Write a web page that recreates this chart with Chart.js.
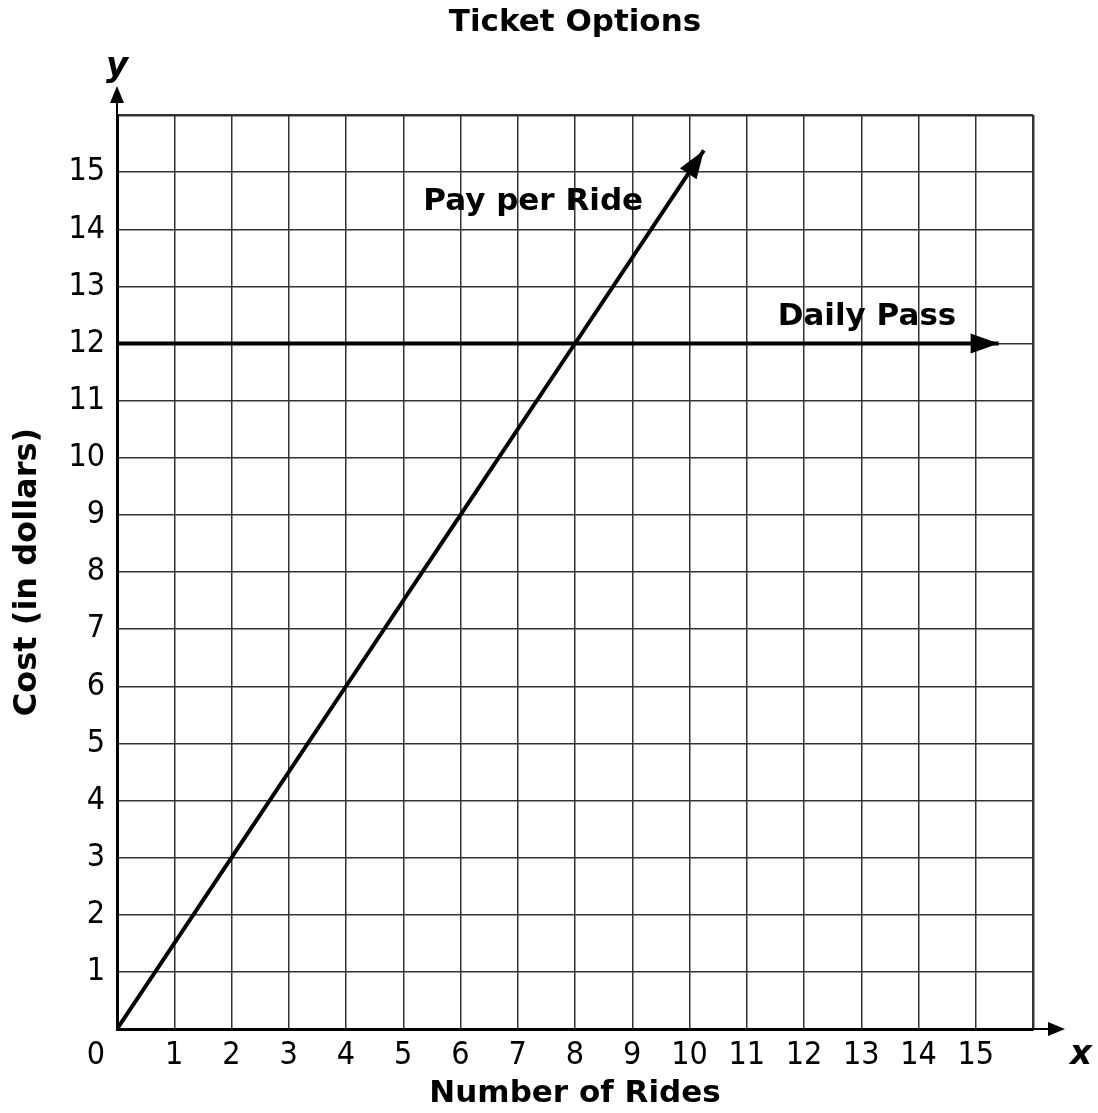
<!DOCTYPE html>
<html>
<head>
<meta charset="utf-8">
<script src="https://cdn.jsdelivr.net/npm/chart.js@4.4.1/dist/chart.umd.min.js"></script>
<style>
  html, body { margin: 0; padding: 0; background: #fff; }
  #wrap { width: 1098px; height: 1113px; }
</style>
</head>
<body>
<div id="wrap"><canvas id="chart" width="1098" height="1113"></canvas></div>
<script>
// data
const payRides = [0, 2, 4, 6, 8, 10.25];
const payCost = [0, 3, 6, 9, 12, 15.38];
const passRides = [0, 15.4];
const passCost = [12, 12];
const xTicks = [0, 1, 2, 3, 4, 5, 6, 7, 8, 9, 10, 11, 12, 13, 14, 15];
const yTicks = [1, 2, 3, 4, 5, 6, 7, 8, 9, 10, 11, 12, 13, 14, 15];
const lineNames = ['Pay per Ride', 'Daily Pass'];
const chartTitle = 'Ticket Options';

const numFont = "'DejaVu Sans Condensed', 'DejaVu Sans', Verdana, sans-serif";
const boldFont = "'DejaVu Sans', Verdana, sans-serif";

function toPoints(xs, ys) {
    return xs.map((x, i) => ({ x: x, y: ys[i] }));
}

// title, arrowheads, axis arrows, line labels and the origin "0"
const extras = {
    id: 'extras',
    afterDraw(chart) {
        const ctx = chart.ctx;
        const xs = chart.scales.x, ys = chart.scales.y;
        const area = chart.chartArea;

        function head(tipX, tipY, fromX, fromY, len, half) {
            const a = Math.atan2(tipY - fromY, tipX - fromX);
            ctx.beginPath();
            ctx.moveTo(tipX, tipY);
            ctx.lineTo(tipX - len * Math.cos(a) + half * Math.sin(a), tipY - len * Math.sin(a) - half * Math.cos(a));
            ctx.lineTo(tipX - len * Math.cos(a) - half * Math.sin(a), tipY - len * Math.sin(a) + half * Math.cos(a));
            ctx.closePath();
            ctx.fill();
        }

        ctx.save();
        ctx.fillStyle = '#000';
        ctx.strokeStyle = '#000';
        ctx.textAlign = 'center';
        ctx.textBaseline = 'middle';

        // title centred over the plot
        ctx.font = "bold 31px " + boldFont;
        ctx.fillText(chartTitle, (area.left + area.right) / 2, 23);

        chart.data.datasets.forEach((ds, i) => {
            const pts = chart.getDatasetMeta(i).data;
            const a = pts[pts.length - 1], b = pts[pts.length - 2];
            head(a.x, a.y, b.x, b.y, 28, 10);
        });

        // axis extensions
        const x0 = xs.getPixelForValue(0), y0 = ys.getPixelForValue(0);
        ctx.lineWidth = 2;
        ctx.beginPath();
        ctx.moveTo(area.right, y0);
        ctx.lineTo(area.right + 20, y0);
        ctx.moveTo(x0, area.top);
        ctx.lineTo(x0, area.top - 16);
        ctx.stroke();
        head(area.right + 32, y0, area.right, y0, 17, 7);
        head(x0, area.top - 29, x0, area.top, 17, 7);

        ctx.font = "italic bold 34px " + boldFont;
        ctx.fillText('y', x0, area.top - 48);
        ctx.fillText('x', area.right + 48, y0 + 26);

        // line labels
        ctx.font = "bold 31px " + boldFont;
        ctx.fillText(lineNames[0], xs.getPixelForValue(7.27), ys.getPixelForValue(14.48));
        ctx.fillText(lineNames[1], xs.getPixelForValue(13.1), ys.getPixelForValue(12.46));

        // origin label
        ctx.font = "32px " + numFont;
        ctx.fillText('0', x0 - 21, y0 + 27);
        ctx.restore();
    }
};

new Chart(document.getElementById('chart'), {
    type: 'scatter',
    data: {
        datasets: [
            {
                label: lineNames[0],
                data: toPoints(payRides, payCost),
                showLine: true,
                borderColor: '#000',
                borderWidth: 4,
                pointRadius: 0,
                fill: false
            },
            {
                label: lineNames[1],
                data: toPoints(passRides, passCost),
                showLine: true,
                borderColor: '#000',
                borderWidth: 4,
                pointRadius: 0,
                fill: false
            }
        ]
    },
    plugins: [extras],
    options: {
        responsive: false,
        animation: false,
        layout: { padding: { left: 0, right: 65, top: 115, bottom: 0 } },
        plugins: {
            legend: { display: false },
            tooltip: { enabled: false },
            title: { display: false }
        },
        scales: {
            x: {
                type: 'linear',
                min: 0,
                max: 16,
                afterFit: s => { s.height = 84; },
                afterBuildTicks: s => { s.ticks = xTicks.concat([16]).map(v => ({ value: v })); },
                ticks: {
                    autoSkip: false,
                    maxRotation: 0,
                    padding: 7,
                    color: '#000',
                    font: { family: numFont, size: 32 },
                    callback: v => (v === 0 || v === 16) ? '' : v
                },
                grid: {
                    drawTicks: false,
                    color: '#333',
                    lineWidth: c => c.tick && c.tick.value === 16 ? 2.5 : 1.5
                },
                border: { display: true, color: '#000', width: 3 },
                title: {
                    display: true,
                    text: 'Number of Rides',
                    color: '#000',
                    font: { family: boldFont, size: 31, weight: 'bold' },
                    padding: { top: 0, bottom: 0 }
                }
            },
            y: {
                type: 'linear',
                min: 0,
                max: 16,
                afterFit: s => { s.width = 117; },
                afterBuildTicks: s => { s.ticks = [0].concat(yTicks, [16]).map(v => ({ value: v })); },
                ticks: {
                    autoSkip: false,
                    padding: 12,
                    color: '#000',
                    font: { family: numFont, size: 32 },
                    callback: v => (v === 0 || v === 16) ? '' : v
                },
                grid: {
                    drawTicks: false,
                    color: '#333',
                    lineWidth: c => c.tick && c.tick.value === 16 ? 2.5 : 1.5
                },
                border: { display: true, color: '#000', width: 3 },
                title: {
                    display: true,
                    text: 'Cost (in dollars)',
                    color: '#000',
                    font: { family: boldFont, size: 32, weight: 'bold' },
                    padding: { top: 8, bottom: 0 }
                }
            }
        }
    }
});
</script>
</body>
</html>
